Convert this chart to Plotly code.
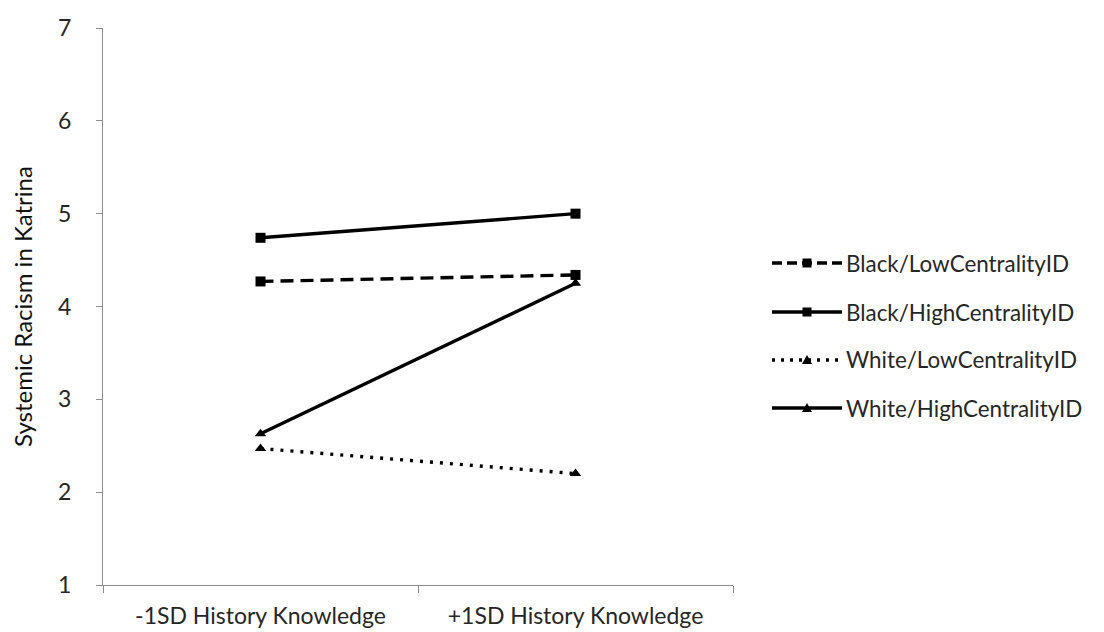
import plotly.graph_objects as go

categories = ["-1SD History Knowledge", "+1SD History Knowledge"]
series_names = ["Black/LowCentralityID", "Black/HighCentralityID",
                "White/LowCentralityID", "White/HighCentralityID"]
black_low = [4.27, 4.34]
black_high = [4.74, 5.00]
white_low = [2.47, 2.20]
white_high = [2.63, 4.25]
y_ticks = [1, 2, 3, 4, 5, 6, 7]

styles = [
    dict(dash="13px,7px", symbol="square", ldash="10px,5px"),
    dict(dash="solid", symbol="square", ldash="solid"),
    dict(dash="3px,7px", symbol="triangle-up", ldash="3px,6px"),
    dict(dash="solid", symbol="triangle-up", ldash="solid"),
]
values = [black_low, black_high, white_low, white_high]

FONT = "Lato, 'Open Sans', sans-serif"
TXT = "#262626"

W, H = 1104, 632
L, R, T, B = 95, 379, 20, 55
PW, PH = W - L - R, H - T - B

def px2paper(x, y):
    return (x - L) / PW, (H - B - y) / PH

fig = go.Figure()
for i, (name, vals, st) in enumerate(zip(series_names, values, styles)):
    fig.add_trace(go.Scatter(
        x=categories, y=vals, name=name, mode="lines+markers",
        showlegend=False,
        line=dict(color="black", width=3.4, dash=st["dash"]),
        marker=dict(symbol=st["symbol"], size=10, color="black"),
    ))

# custom legend (long keys like the original)
shapes, annotations = [], []
row_y = [255, 304, 352, 400]
x0p, x1p = 764, 834
for name, st, ry in zip(series_names, styles, row_y):
    ax0, ay = px2paper(x0p, ry)
    ax1, _ = px2paper(x1p, ry)
    shapes.append(dict(type="line", xref="paper", yref="paper",
                       x0=ax0, x1=ax1, y0=ay, y1=ay,
                       line=dict(color="black", width=3.4, dash=st["ldash"])))
    cx = (x0p + x1p) / 2
    if st["symbol"] == "square":
        a, b = px2paper(cx - 4.5, ry - 4.5)
        c, d = px2paper(cx + 4.5, ry + 4.5)
        shapes.append(dict(type="rect", xref="paper", yref="paper",
                           x0=a, x1=c, y0=b, y1=d, fillcolor="black",
                           line=dict(width=0)))
    else:
        p1 = px2paper(cx - 5, ry + 4)
        p2 = px2paper(cx + 5, ry + 4)
        p3 = px2paper(cx, ry - 5)
        path = f"M{p1[0]},{p1[1]} L{p2[0]},{p2[1]} L{p3[0]},{p3[1]} Z"
        shapes.append(dict(type="path", xref="paper", yref="paper", path=path,
                           fillcolor="black", line=dict(width=0)))
    tx, ty = px2paper(836, ry)
    annotations.append(dict(text=name, xref="paper", yref="paper", x=tx, y=ty,
                            xanchor="left", yanchor="middle", showarrow=False,
                            font=dict(size=22.4, color=TXT, family=FONT)))

fig.update_layout(
    width=W, height=H,
    paper_bgcolor="white", plot_bgcolor="white",
    margin=dict(l=L, r=R, t=T, b=B, autoexpand=False),
    font=dict(family=FONT, size=23, color=TXT),
    showlegend=False,
    shapes=shapes, annotations=annotations,
    xaxis=dict(type="category", range=[-0.5, 1.5], showline=True,
               linecolor="#8c8c8c", linewidth=1.3, ticks="outside",
               tickson="boundaries", ticklen=7, tickcolor="#8c8c8c",
               ticklabelstandoff=10, automargin=False,
               showgrid=False, zeroline=False, tickfont=dict(size=23, color=TXT)),
    yaxis=dict(range=[1, 7], tickvals=y_ticks, showline=True,
               linecolor="#8c8c8c", linewidth=1.3, ticks="outside",
               ticklen=6, tickcolor="#8c8c8c", showgrid=False, zeroline=False,
               ticklabelstandoff=20, automargin=False,
               tickfont=dict(size=23, color=TXT),
               title=dict(text="Systemic Racism in Katrina",
                          font=dict(size=24, color="#111"), standoff=18)),
)

fig.write_html("out.html")
